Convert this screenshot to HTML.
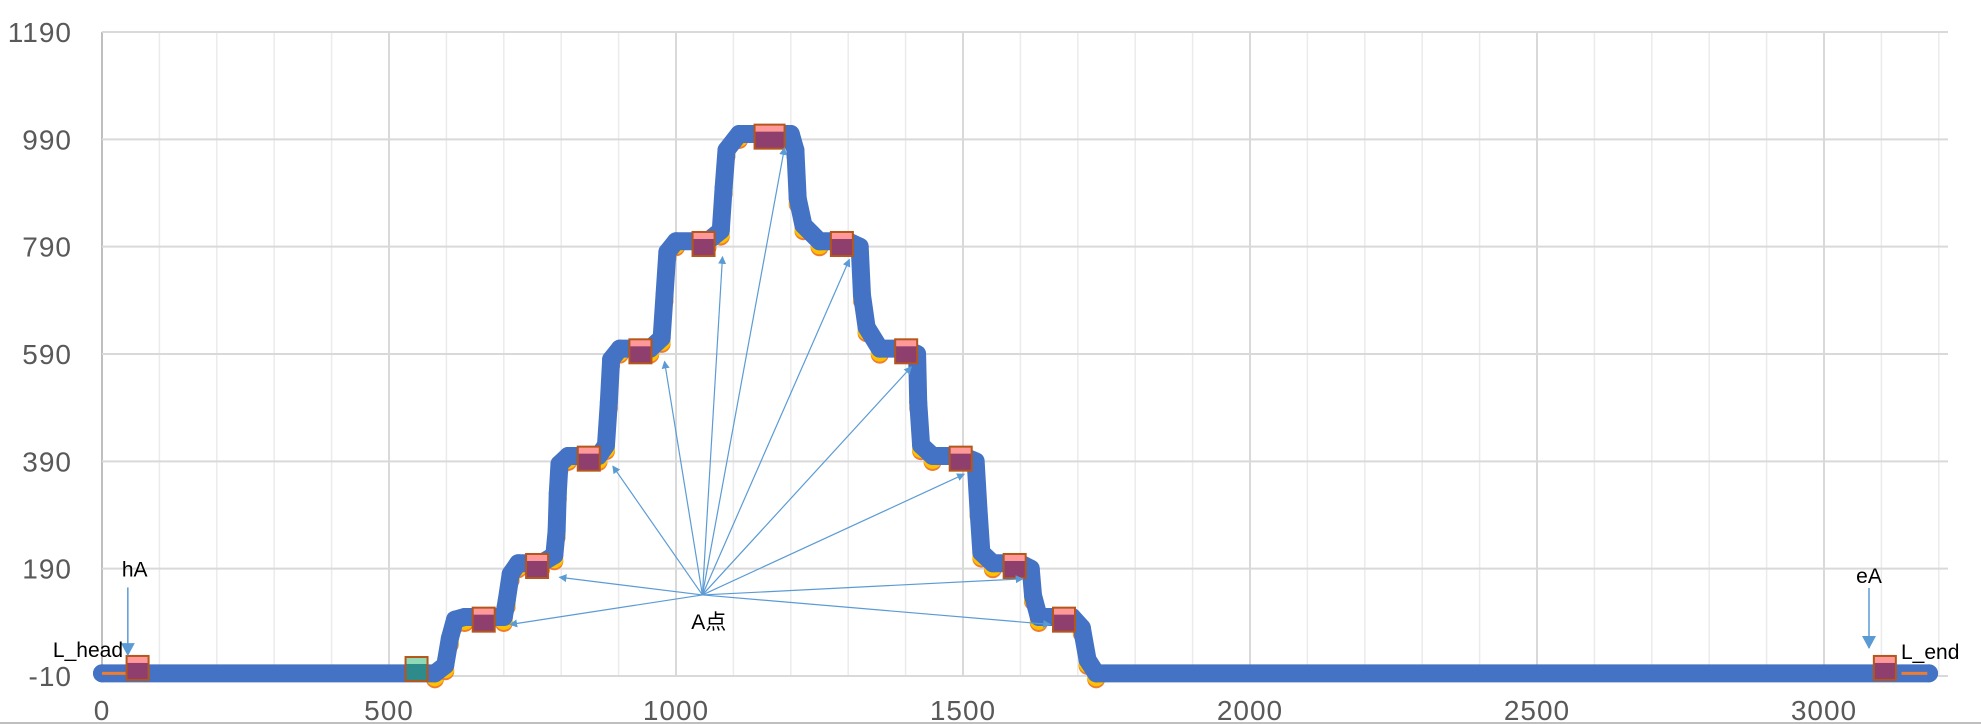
<!DOCTYPE html>
<html><head><meta charset="utf-8"><style>
html,body{margin:0;padding:0;background:#fff;}
svg{display:block;font-family:"Liberation Sans","Noto Sans CJK SC",sans-serif;}
</style></head><body>
<svg id="chart" width="1981" height="724" viewBox="0 0 1981 724" xmlns="http://www.w3.org/2000/svg">
<g id="grid"></g>
<g id="axes"></g>
<g id="series"></g>
<g id="marks"></g>
<g id="ann"></g>
</svg>
<script>
const xTicks = [0,500,1000,1500,2000,2500,3000];
const yTicks = [-10,190,390,590,790,990,1190];
const seriesX = [0,580,598,606,615,632,700,705,712,725,765,788,792,794,797,812,865,878,883,887,902,955,975,980,985,1000,1055,1078,1083,1088,1110,1200,1208,1212,1222,1250,1300,1320,1324,1332,1355,1400,1420,1422,1427,1447,1500,1522,1527,1532,1552,1600,1618,1622,1632,1690,1707,1717,1732,3183];
const seriesY = [-5,-5,10,60,95,100,100,130,180,200,200,215,260,330,385,400,400,420,500,580,600,600,620,700,780,800,800,820,900,970,1000,1000,970,880,830,800,800,790,700,640,600,600,590,500,420,400,400,390,300,220,200,200,190,140,100,100,80,20,-5,-5];
const squareX = [62,548,665,758,848,938,1048,1163,1289,1401,1496,1590,1676,3106];
const squareY = [5,3,95,195,395,595,795,995,795,595,395,195,95,5];
const arrowX = [711,797,890,980,1081,1189,1302,1410,1502,1604,1652];
const arrowY = [86,174,381,576,771,974,766,566,366,171,86];
const aPoint = [1046,141];

const X = v => 102 + v*0.574;
const Y = v => 676 - (v+10)*0.53667;
const NS = "http://www.w3.org/2000/svg";
function mk(tag, attrs, parent){const e=document.createElementNS(NS,tag);for(const k in attrs)e.setAttribute(k,attrs[k]);parent.appendChild(e);return e;}
const grid=document.getElementById('grid'), axes=document.getElementById('axes'), series=document.getElementById('series'), marks=document.getElementById('marks'), ann=document.getElementById('ann');

for(let v=100; v<=3200; v+=100){
  if(v%500===0) continue;
  const l=mk('line',{x1:X(v),x2:X(v),y1:Y(1190),y2:Y(-10),stroke:'#EBEBEB','stroke-width':1.5},grid);
  
  
}
xTicks.forEach(v=>{
  const l=mk('line',{x1:X(v),x2:X(v),y1:Y(1190),y2:Y(-10),stroke:v===0?'#BFBFBF':'#D9D9D9','stroke-width':2},grid);
  
  
  const t=mk('text',{x:X(v),y:720,'text-anchor':'middle','font-size':28,fill:'#595959','letter-spacing':1},axes);
  t.textContent=v;
  
  
});
yTicks.forEach(v=>{
  const l=mk('line',{x1:X(0),x2:1948,y1:Y(v),y2:Y(v),stroke:'#D9D9D9','stroke-width':2},grid);
  
  
  const t=mk('text',{x:72,y:Y(v)+10,'text-anchor':'end','font-size':28,fill:'#595959','letter-spacing':1},axes);
  t.textContent=v;
  
  
});
const bl=mk('line',{x1:0,x2:1981,y1:723,y2:723,stroke:'#BFBFBF','stroke-width':2},axes);



// yellow/orange underlay dots on rises only
seriesX.forEach((x,i)=>{
  if(i>0 && i<seriesX.length-1 && (seriesY[i]!==seriesY[i-1] || seriesY[i]!==seriesY[i+1])){
    const co=mk('circle',{cx:X(x),cy:Y(seriesY[i])+6,r:9,fill:'#ED7D31'},series);
    
    
    const cy=mk('circle',{cx:X(x),cy:Y(seriesY[i])+4,r:9,fill:'#FFC000'},series);
    
    
  }
});
const pts = seriesX.map((x,i)=>X(x)+','+Y(seriesY[i])).join(' ');
const pb=mk('polyline',{points:pts,fill:'none',stroke:'#4472C4','stroke-width':18,'stroke-linecap':'round','stroke-linejoin':'round'},series);


seriesX.forEach((x,i)=>{
  const c=mk('circle',{cx:X(x),cy:Y(seriesY[i]),r:9,fill:'#4472C4'},series);
  
  
});
[[0,50],[3135,3180]].forEach(r=>{
  const l=mk('line',{x1:X(r[0]),x2:X(r[1]),y1:Y(-5),y2:Y(-5),stroke:'#ED7D31','stroke-width':3},series);
  
  
});

squareX.forEach((x,i)=>{
  const w = i===7?30:22, h=24;
  const cx=X(x), cy=Y(squareY[i]);
  const teal = i===1;
  const g=mk('g',{},marks);
  
  
  mk('rect',{x:cx-w/2,y:cy-h/2,width:w,height:h,fill:teal?'#2E8B8B':'#8E3F6E'},g);
  mk('rect',{x:cx-w/2,y:cy-h/2,width:w,height:7,fill:teal?'#8FD9B6':'#FF9999'},g);
  mk('rect',{x:cx-w/2,y:cy-h/2,width:w,height:h,fill:'none',stroke:'#B5561B','stroke-width':2},g);
});

const defs=mk('defs',{},ann);
const m=mk('marker',{id:'ah',markerWidth:8,markerHeight:8,refX:7,refY:4,orient:'auto',markerUnits:'userSpaceOnUse'},defs);
mk('path',{d:'M0,0 L8,4 L0,8 Z',fill:'#5B9BD5'},m);
const m2=mk('marker',{id:'ah2',markerWidth:14,markerHeight:14,refX:12,refY:7,orient:'auto',markerUnits:'userSpaceOnUse'},defs);
mk('path',{d:'M0,0 L13,7 L0,14 Z',fill:'#5B9BD5'},m2);
arrowX.forEach((x,i)=>{
  const l=mk('line',{x1:X(aPoint[0]),y1:Y(aPoint[1]),x2:X(x),y2:Y(arrowY[i]),stroke:'#5B9BD5','stroke-width':1.2,'marker-end':'url(#ah)'},ann);
  
  
});
function txt(s,x,y,anchor,name){const t=mk('text',{x:x,y:y,'text-anchor':anchor,'font-size':21,fill:'#000'},ann);t.textContent=s;return t;}
txt('A点',X(1057),Y(78),'middle','a-point-label');
txt('hA',X(57),Y(175),'middle','ha-label');
const ha=mk('line',{x1:X(45),y1:Y(155),x2:X(45),y2:Y(29),stroke:'#5B9BD5','stroke-width':1.5,'marker-end':'url(#ah2)'},ann);


txt('eA',1869,583,'middle','ea-label');
const ea=mk('line',{x1:1869,y1:588,x2:1869,y2:648,stroke:'#5B9BD5','stroke-width':1.5,'marker-end':'url(#ah2)'},ann);


txt('L_head',123,657,'end','l-head-label');
txt('L_end',1901,659,'start','l-end-label');
</script>
</body></html>
